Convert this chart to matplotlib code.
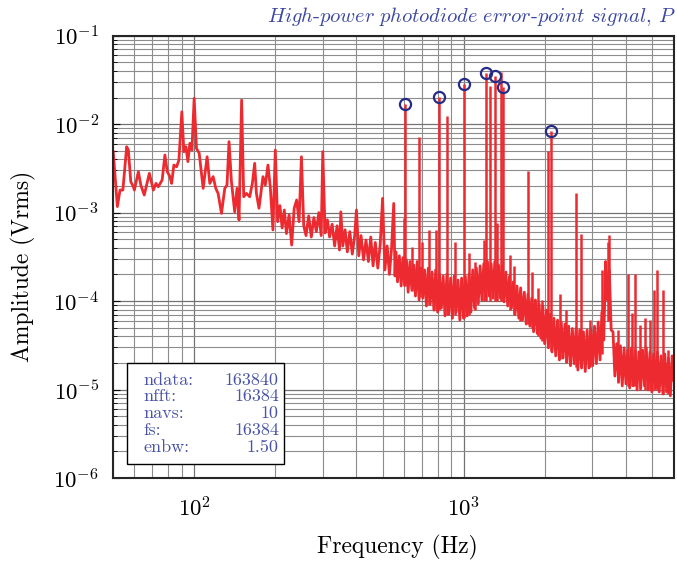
import numpy as np
import matplotlib.pyplot as plt
from matplotlib.patches import Rectangle
from matplotlib.ticker import NullFormatter

plt.rcParams['font.family'] = 'serif'
plt.rcParams['font.serif'] = ['cmr10']
plt.rcParams['mathtext.fontset'] = 'cm'
plt.rcParams['axes.formatter.use_mathtext'] = True
plt.rcParams['axes.unicode_minus'] = False

# amplitude spectrum (Hz, Vrms)
freq_hz = [50.1, 51.9, 53.1, 54.4, 56.2, 57.0, 58.2, 59.5, 60.0, 62.1, 63.4, 65.3,
           68.2, 70.6, 72.2, 73.6, 76.1, 77.9, 79.5, 81.3, 82.5, 84.1, 86.1, 87.8,
           90.0, 91.6, 93.2, 94.8, 96.4, 98.1, 100.0, 102.0, 104.4, 108.0, 111.7,
           114.3, 117.6, 120.3, 122.7, 126.3, 129.9, 132.4, 134.7, 137.5, 141.4,
           144.2, 146.7, 150.0, 152.7, 156.3, 160.7, 164.4, 167.7, 170.2, 174.0,
           180.0, 183.7, 187.8, 191.6, 196.0, 200.0,
           204, 208, 212, 216, 220, 225, 230, 235, 240, 245, 250, 255, 260, 266,
           272, 278, 284, 290, 296, 300, 306, 312, 318, 325, 332, 339, 346, 350,
           356, 363, 370, 378, 386, 394, 400, 408, 416, 425, 434, 443, 452, 461,
           470, 480, 490, 500, 510, 520, 530, 540, 550, 556,
           560, 568, 577, 586, 595, 604, 613, 622, 632, 642, 652, 662, 672, 683,
           694, 705, 716, 727, 739, 751, 763, 775, 787, 800, 813, 826, 839, 852,
           866, 880, 894, 908, 922, 937, 952, 967, 982, 998,
           1014, 1030, 1046, 1063, 1080, 1097, 1114, 1132, 1150, 1168, 1187, 1206,
           1225, 1244, 1264, 1284, 1304, 1325, 1346, 1367, 1389, 1411, 1433, 1456,
           1479, 1503, 1527, 1551, 1576, 1601, 1626, 1652, 1678, 1705, 1732, 1760,
           1788, 1816, 1845, 1874, 1904, 1934, 1965, 1996,
           2028, 2060, 2093, 2126, 2160, 2194, 2229, 2264, 2300, 2337, 2374, 2412,
           2450, 2489, 2529, 2569, 2610, 2651, 2693, 2736, 2780, 2824, 2869, 2915,
           2961, 3008, 3056, 3105, 3154, 3204, 3255, 3307, 3360, 3413, 3468, 3523,
           3579, 3636, 3694, 3753, 3813, 3873, 3935, 3998, 4061, 4126, 4192, 4258,
           4326, 4395, 4465, 4536, 4608, 4682, 4756, 4832, 4909, 4987, 5067, 5147,
           5229, 5313, 5397, 5483, 5571, 5659, 5749, 5841, 5934, 6000]

amp_vrms = [4.88e-3, 1.17e-3, 1.80e-3, 1.80e-3, 5.56e-3, 5.10e-3, 2.24e-3, 1.96e-3,
            1.80e-3, 2.90e-3, 2.05e-3, 1.58e-3, 2.78e-3, 1.80e-3, 2.14e-3, 1.96e-3,
            2.34e-3, 4.48e-3, 2.90e-3, 2.55e-3, 2.14e-3, 3.45e-3, 3.30e-3, 3.93e-3,
            1.38e-2, 4.88e-3, 5.56e-3, 3.77e-3, 6.08e-3, 5.10e-3, 1.96e-2, 5.33e-3,
            4.69e-3, 1.88e-3, 4.28e-3, 2.14e-3, 2.55e-3, 1.88e-3, 1.65e-3, 9.8e-4,
            1.88e-3, 2.05e-3, 6.34e-3, 2.24e-3, 1.02e-3, 1.88e-3, 8.26e-4, 1.87e-2,
            1.51e-3, 1.65e-3, 1.51e-3, 2.14e-3, 3.61e-3, 1.65e-3, 1.12e-3, 2.55e-3,
            2.05e-3, 3.45e-3, 1.96e-3, 6.37e-4, 5.10e-3,
            7.9e-4, 1.2e-3, 6.7e-4, 1.07e-3, 5.8e-4, 9.4e-4, 4.3e-4, 1.12e-3, 1.39e-3,
            7.9e-4, 4.28e-3, 7.1e-4, 5.5e-4, 9.2e-4, 5.3e-4, 8.8e-4, 6.1e-4, 1.0e-3,
            5.5e-4, 4.88e-3, 5.9e-4, 8.3e-4, 5.3e-4, 7.4e-4, 4.2e-4, 7.1e-4, 3.78e-4,
            1.02e-3, 4.2e-4, 6.4e-4, 3.6e-4, 6.1e-4, 3.4e-4, 5.5e-4, 1.07e-3, 3.25e-4,
            5.5e-4, 2.92e-4, 4.9e-4, 2.8e-4, 5.3e-4, 2.5e-4, 4.6e-4, 2.36e-4, 4.4e-4,
            1.45e-3, 2.25e-4, 4.2e-4, 2.0e-4, 4.0e-4, 1.27e-3, 1.92e-4,
            3.6e-4, 1.65e-4, 3.25e-4, 1.48e-4, 3.1e-4, 1.56e-4, 2.92e-4, 1.26e-4,
            2.8e-4, 1.33e-4, 2.56e-4, 1.14e-4, 2.8e-4, 1.03e-4, 2.36e-4, 1.08e-4,
            2.25e-4, 8.8e-5, 2.36e-4, 9.3e-5, 2.13e-4, 7.9e-5, 2.25e-4, 7.5e-5,
            2.02e-4, 8.3e-5, 1.92e-4, 6.8e-5, 2.02e-4, 7.1e-5, 1.82e-4, 6.4e-5,
            1.92e-4, 7.5e-5, 1.73e-4, 6.1e-5, 1.82e-4, 6.4e-5,
            1.92e-4, 6.8e-5, 2.02e-4, 7.5e-5, 2.25e-4, 8.3e-5, 2.36e-4, 9.3e-5,
            2.5e-4, 1.03e-4, 2.64e-4, 1.08e-4, 2.8e-4, 1.14e-4, 2.64e-4, 1.08e-4,
            2.8e-4, 1.03e-4, 2.56e-4, 1.08e-4, 2.5e-4, 9.8e-5, 2.13e-4, 8.8e-5,
            1.92e-4, 8.3e-5, 1.65e-4, 7.1e-5, 1.48e-4, 6.4e-5, 1.41e-4, 6.1e-5,
            1.26e-4, 5.5e-5, 1.2e-4, 5.2e-5, 1.08e-4, 4.5e-5, 1.03e-4, 4.3e-5,
            9.3e-5, 3.8e-5, 8.8e-5, 3.3e-5,
            7.9e-5, 2.96e-5, 7.1e-5, 2.66e-5, 6.4e-5, 2.4e-5, 6.1e-5, 2.16e-5,
            5.8e-5, 2.27e-5, 5.5e-5, 2.05e-5, 5.2e-5, 1.86e-5, 4.9e-5, 1.96e-5,
            4.9e-5, 1.66e-5, 4.7e-5, 1.75e-5, 4.5e-5, 1.6e-5, 4.7e-5, 1.75e-5,
            4.9e-5, 1.86e-5, 5.2e-5, 1.96e-5, 5.8e-5, 2.16e-5, 7.5e-5, 3.63e-5,
            2.8e-4, 1.03e-4, 2.25e-4, 4.7e-5,
            4.5e-5, 1.42e-5, 3.3e-5, 1.23e-5, 3.12e-5, 1.1e-5, 2.96e-5, 1.16e-5,
            2.8e-5, 1.04e-5, 2.96e-5, 1.1e-5, 2.8e-5, 9.9e-6, 2.66e-5, 1.04e-5,
            2.8e-5, 1.1e-5, 2.96e-5, 9.9e-6, 2.66e-5, 9.4e-6, 2.52e-5, 1.04e-5,
            2.66e-5, 9.4e-6, 2.4e-5, 8.9e-6, 2.52e-5, 9.4e-6, 2.27e-5, 8.5e-6,
            2.4e-5, 1.28e-5]

# narrow lines sticking out of the noise floor
spike_f = [598, 606, 644, 684, 700, 744, 792, 812, 870, 929, 1005, 1046, 1098,
           1192, 1206, 1251, 1302, 1328, 1370, 1400, 1483, 1535, 1620, 1734, 1794,
           1888, 1950, 2050, 2115, 2284, 2400, 2609, 2722, 2950, 3260, 3425, 3467,
           3750, 4054, 4193, 4325, 4500, 4722, 4900, 5099, 5200, 5472, 5745]
spike_top = [8.6e-4, 1.70e-2, 4.1e-4, 7.2e-3, 4.7e-4, 6.3e-4, 6.4e-4, 2.01e-2,
             1.24e-2, 4.6e-4, 2.84e-2, 3.5e-4, 2.8e-4, 4.9e-4, 3.78e-2, 2.70e-2,
             3.53e-2, 7.6e-4, 3.92e-2, 2.65e-2, 3.3e-4, 2.5e-4, 1.33e-4, 2.96e-3,
             2.15e-4, 1.4e-4, 1.03e-4, 4.97e-3, 8.3e-3, 1.2e-4, 7.9e-5, 1.68e-3,
             5.7e-4, 6.1e-5, 2.25e-4, 4.6e-4, 5.6e-4, 4.7e-5, 2.0e-4, 7.3e-5,
             2.0e-4, 5.4e-5, 6.4e-5, 6.1e-5, 1.33e-4, 2.24e-4, 1.33e-4, 2.8e-5]
spike_base = [1.5e-4, 1.5e-4, 1.3e-4, 1.1e-4, 1.1e-4, 9e-5, 8e-5, 8e-5, 7e-5,
              7e-5, 6.5e-5, 7e-5, 8e-5, 1e-4, 1e-4, 1e-4, 1e-4, 1e-4, 1e-4, 1e-4,
              8e-5, 7e-5, 6e-5, 5.5e-5, 5e-5, 4e-5, 3.5e-5, 3e-5, 2.7e-5, 2.2e-5,
              2e-5, 1.8e-5, 1.8e-5, 1.8e-5, 2.5e-5, 6e-5, 6e-5, 1.2e-5, 1.1e-5,
              1.1e-5, 1.1e-5, 1e-5, 1e-5, 1e-5, 1e-5, 1e-5, 9e-6, 9e-6]

# circled peaks
peak_f = [606, 812, 1005, 1206, 1302, 1400, 2115]
peak_a = [0.0170, 0.0201, 0.0284, 0.0378, 0.0353, 0.0265, 0.0083]

info_keys = ['ndata:', 'nfft:', 'navs:', 'fs:', 'enbw:']
info_vals = ['163840', '16384', '10', '16384', '1.50']

red = '#ec2a30'
blue_txt = '#4a53a6'

fig = plt.figure(figsize=(6.77, 5.63), dpi=100)
ax = fig.add_axes([113/677, 1-478/563, 560.5/677, 442.3/563])

ax.plot(freq_hz, amp_vrms, color=red, lw=2.0, zorder=2)
ax.vlines(spike_f, spike_base, spike_top, color=red, lw=1.8, zorder=2)
ax.plot(peak_f, peak_a, ls='none', marker='o', ms=8, mfc='none', mec='#262b86',
        mew=1.6, zorder=3)

ax.set_xscale('log')
ax.set_yscale('log')
ax.set_xlim(50, 6000)
ax.set_ylim(1e-6, 1e-1)
ax.xaxis.set_minor_formatter(NullFormatter())

ax.set_axisbelow(True)
ax.grid(True, which='major', color='0.45', lw=0.9)
ax.grid(True, which='minor', color='0.55', lw=0.8)
ax.tick_params(which='both', direction='in', labelsize=16.5)
ax.tick_params(axis='y', which='major', length=5, pad=10)
ax.tick_params(axis='y', which='minor', length=3)
ax.tick_params(axis='x', which='both', length=0, pad=13)
for s in ax.spines.values():
    s.set_linewidth(1.5)
    s.set_color('0.15')

# info box
ax.add_patch(Rectangle((0.0244, 0.031), 0.2812, 0.2297, transform=ax.transAxes,
                       fc='white', ec='black', lw=1.0, zorder=4))
rows_y = [0.2216, 0.1838, 0.1463, 0.1085, 0.0694]
for k, v, yy in zip(info_keys, info_vals, rows_y):
    ax.text(0.054, yy, k, transform=ax.transAxes, ha='left', va='center',
            fontsize=13, color=blue_txt, zorder=5)
    ax.text(0.296, yy, v, transform=ax.transAxes, ha='right', va='center',
            fontsize=13, color=blue_txt, zorder=5)

fig.text(397/677, 1-547/563, 'Frequency (Hz)', ha='center', va='center', fontsize=17)
fig.text(23/677, 1-266/563, 'Amplitude (Vrms)', ha='center', va='center',
         rotation=90, fontsize=17)
fig.text(0.999, 1-17/563,
         r'$\mathit{High}$-$\mathit{power\ photodiode\ error}$-$\mathit{point\ signal}$, $\mathit{P}$',
         ha='right', va='center', fontsize=14.8, color='#3c47a0')

fig.savefig('out.png', dpi=100)
